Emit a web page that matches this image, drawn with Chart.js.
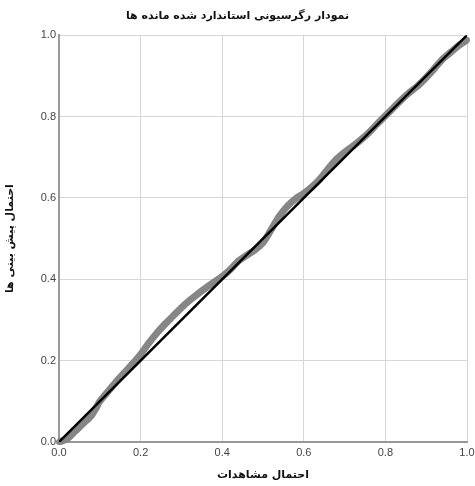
<!DOCTYPE html>
<html>
<head>
<meta charset="utf-8">
<script src="https://cdn.jsdelivr.net/npm/chart.js@4"></script>
<style>
  html, body { margin: 0; padding: 0; background: #fff; }
  #wrap { width: 475px; height: 486px; }
</style>
</head>
<body>
<div id="wrap"><canvas id="ppChart"></canvas></div>
<script>
/* P-P plot of standardized regression residuals */
const observedProb = [0.00, 0.02, 0.04, 0.06, 0.08, 0.09, 0.10, 0.12, 0.14, 0.16, 0.18, 0.20,
  0.22, 0.24, 0.26, 0.28, 0.30, 0.32, 0.34, 0.36, 0.38, 0.40, 0.42, 0.44, 0.46, 0.48, 0.50,
  0.52, 0.54, 0.56, 0.58, 0.60, 0.62, 0.64, 0.66, 0.68, 0.70, 0.72, 0.74, 0.76, 0.78, 0.80,
  0.82, 0.84, 0.86, 0.88, 0.90, 0.92, 0.94, 0.96, 0.98, 1.00];
const expectedProb = [0.000, 0.008, 0.027, 0.046, 0.066, 0.082, 0.100, 0.124, 0.148, 0.170, 0.192, 0.215,
  0.243, 0.268, 0.290, 0.310, 0.330, 0.348, 0.364, 0.379, 0.393, 0.407, 0.424, 0.445, 0.459, 0.472, 0.490,
  0.522, 0.555, 0.580, 0.598, 0.611, 0.627, 0.647, 0.672, 0.695, 0.712, 0.727, 0.743, 0.761, 0.782, 0.802,
  0.822, 0.842, 0.860, 0.876, 0.896, 0.918, 0.941, 0.958, 0.975, 0.988];
const referenceLine = [0, 1];
const tickValues = [0, 0.2, 0.4, 0.6, 0.8, 1.0];

const titleText = "نمودار رگرسیونی استاندارد شده مانده ها";
const xTitle = "احتمال مشاهدات";
const yTitle = "احتمال پیش بینی ها";

const points = observedProb.map((x, i) => ({ x: x, y: expectedProb[i] }));
const diag = referenceLine.map(v => ({ x: v, y: v }));

const persianFont = { family: "'DejaVu Sans', sans-serif", size: 11, weight: "bold" };
const tickFont = { family: "'Liberation Sans', Arial, sans-serif", size: 11 };

new Chart(document.getElementById("ppChart"), {
  type: "scatter",
  data: {
    datasets: [
      {
        label: "diagonal",
        data: diag,
        showLine: true,
        borderColor: "#000",
        borderWidth: 2.5,
        pointRadius: 0
      },
      {
        label: "residuals",
        data: points,
        showLine: true,
        borderColor: "#868686",
        borderWidth: 7,
        tension: 0.3,
        pointRadius: 3,
        pointBackgroundColor: "#868686",
        pointBorderWidth: 0,
        clip: 6
      }
    ]
  },
  options: {
    responsive: true,
    maintainAspectRatio: false,
    animation: false,
    layout: { padding: { left: 0, right: 0, top: 0, bottom: 0 } },
    plugins: {
      legend: { display: false },
      tooltip: { enabled: false },
      title: {
        display: true,
        text: titleText,
        color: "#111",
        font: persianFont,
        padding: { top: 10, bottom: 12 }
      }
    },
    scales: {
      x: {
        type: "linear",
        min: 0,
        max: 1,
        afterBuildTicks: s => { s.ticks = tickValues.map(v => ({ value: v })); },
        afterFit: s => { s.height = 44; s.paddingRight = 8; s.paddingLeft = 0; },
        ticks: {
          color: "#444",
          font: tickFont,
          padding: 4,
          callback: v => v.toFixed(1)
        },
        grid: { color: "#d6d6d6", lineWidth: 1, drawTicks: false },
        border: { color: "#999", width: 2 },
        title: { display: true, text: xTitle, color: "#111", font: persianFont, padding: { top: 8 } }
      },
      y: {
        type: "linear",
        min: 0,
        max: 1,
        afterBuildTicks: s => { s.ticks = tickValues.map(v => ({ value: v })); },
        afterFit: s => { s.width = 59; },
        ticks: {
          color: "#444",
          font: tickFont,
          padding: 3,
          callback: v => v.toFixed(1)
        },
        grid: { color: "#d6d6d6", lineWidth: 1, drawTicks: false },
        border: { color: "#999", width: 2 },
        title: { display: true, text: yTitle, color: "#111", font: persianFont, padding: { bottom: 12 } }
      }
    }
  }
});
</script>
</body>
</html>
